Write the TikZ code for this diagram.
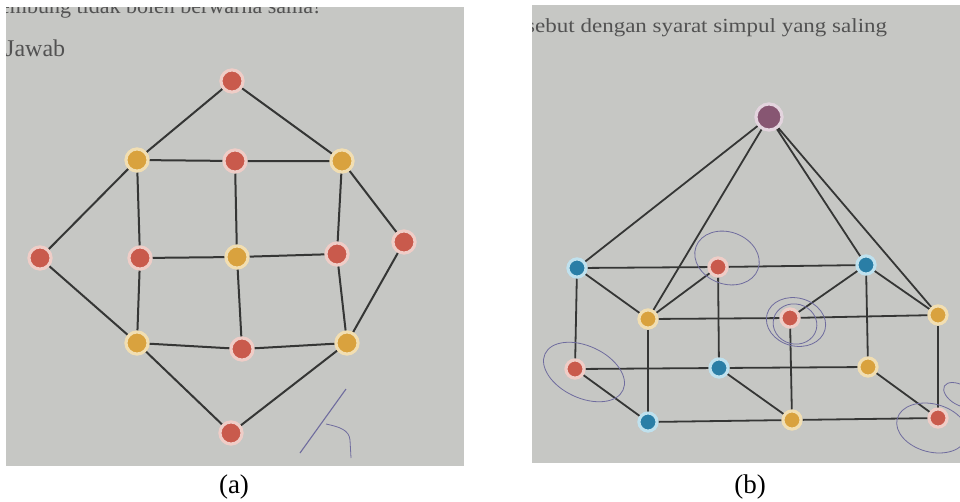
\documentclass[tikz,border=0pt]{standalone}
\usepackage{fontspec}
\setmainfont{Liberation Serif}
\definecolor{paper}{HTML}{C6C7C4}
\definecolor{edgec}{HTML}{353635}
\definecolor{inkc}{HTML}{6F6C9E}
\definecolor{redf}{HTML}{C95A4C}
\definecolor{redr}{HTML}{EFCDC7}
\definecolor{oraf}{HTML}{D9A23E}
\definecolor{orar}{HTML}{F1DEB2}
\definecolor{bluf}{HTML}{2A7EA6}
\definecolor{blur}{HTML}{BFE1EE}
\definecolor{purf}{HTML}{875672}
\definecolor{purr}{HTML}{E3D4DE}
\tikzset{
  vtx/.style={circle,line width=3pt,minimum size=22pt,inner sep=0pt},
  vred/.style={vtx,fill=redf,draw=redr},
  vora/.style={vtx,fill=oraf,draw=orar},
  vblu/.style={vtx,fill=bluf,draw=blur,minimum size=18pt},
  vpur/.style={vtx,fill=purf,draw=purr,minimum size=26pt},
  small/.style={minimum size=18pt},
  pen/.style={draw=inkc,line width=0.8pt},
  printed/.style={text=black!68,font=\fontsize{22}{22}\selectfont,inner sep=0pt}
}
\begin{document}
\begin{tikzpicture}[x=1pt,y=-1pt]
	\useasboundingbox (0,0) rectangle (960,501);
	\fill[white] (0,0) rectangle (960,501);
	% the two photos
	\fill[paper] (6,7) rectangle (464,466);
	\fill[paper] (532,5) rectangle (960,463);
	\begin{scope}
	\clip (6,7) rectangle (464,466);
	\node[printed,anchor=base west] (qa) at (0,13) {embung tidak boleh berwarna sama!};
	\node[printed,anchor=base west,font=\fontsize{24}{24}\selectfont] (jw) at (5,56) {Jawab};
	\end{scope}
	\begin{scope}
	\clip (532,5) rectangle (960,463);
	\node[printed,anchor=base west,font=\fontsize{20}{20}\selectfont,xscale=1.15] (qb) at (526,32) {sebut dengan syarat simpul yang saling};
	\end{scope}
	% graph (a)
	\node[vred] (t) at (232,81){};
	\node[vora] (tl) at (137,160){};
	\node[vred] (tm) at (235,161){};
	\node[vora] (tr) at (342,161){};
	\node[vred] (l) at (40,258){};
	\node[vred] (ml) at (140,258){};
	\node[vora] (mc) at (237,257){};
	\node[vred] (mr) at (337,254){};
	\node[vred] (r) at (404,242){};
	\node[vora] (bl) at (137,343){};
	\node[vred] (bm) at (242,349){};
	\node[vora] (br) at (347,343){};
	\node[vred] (b) at (231,433){};
	\begin{scope}[edgec,line width=2pt]
	\draw (tl)--(t)--(tr);
	\draw (tl)--(tm)--(tr);
	\draw (ml)--(mc)--(mr);
	\draw (bl)--(bm)--(br);
	\draw (tl)--(ml)--(bl);
	\draw (tm)--(mc)--(bm);
	\draw (tr)--(mr)--(br);
	\draw (tl)--(l)--(bl);
	\draw (tr)--(r)--(br);
	\draw (bl)--(b)--(br);
	\end{scope}
	% pen mark
	\draw[pen,line width=1.1pt] (300,453)--(346,389);
	\draw[pen] (326,424)..controls (340,427) and (349,430)..(350,440)--(351,458);
	% graph (b)
	\node[vpur] (apex) at (769,117){};
	\node[vblu] (blt) at (577,268){};
	\node[vred,small] (bmt) at (718,267){};
	\node[vblu] (brt) at (866,265){};
	\node[vora,small] (flt) at (648,319){};
	\node[vred,small] (fmt) at (790,318){};
	\node[vora,small] (frt) at (938,315){};
	\node[vred,small] (blb) at (575,369){};
	\node[vblu] (bmb) at (719,368){};
	\node[vora,small] (brb) at (868,367){};
	\node[vblu] (flb) at (648,422){};
	\node[vora,small] (fmb) at (792,420){};
	\node[vred,small] (frb) at (938,418){};
	\begin{scope}[edgec,line width=1.8pt]
	\draw (blt)--(apex)--(flt);
	\draw (brt)--(apex)--(frt);
	\draw (blt)--(bmt)--(brt);
	\draw (flt)--(fmt)--(frt);
	\draw (blb)--(bmb)--(brb);
	\draw (flb)--(fmb)--(frb);
	\draw (blt)--(flt);
	\draw (brt)--(frt);
	\draw (bmt)--(flt);
	\draw (brt)--(fmt);
	\draw (blb)--(flb);
	\draw (bmb)--(fmb);
	\draw (brb)--(frb);
	\draw (blt)--(blb);
	\draw (bmt)--(bmb);
	\draw (brt)--(brb);
	\draw (flt)--(flb);
	\draw (fmt)--(fmb);
	\draw (frt)--(frb);
	\end{scope}
	% redraw vertices over the lines
	\foreach \v/\s in {t/vred,tl/vora,tm/vred,tr/vora,l/vred,ml/vred,mc/vora,mr/vred,r/vred,bl/vora,bm/vred,br/vora,b/vred}
		\node[\s] at (\v){};
	\foreach \v/\s in {apex/vpur,blt/vblu,brt/vblu,bmb/vblu,flb/vblu}
		\node[\s] at (\v){};
	\foreach \v/\s in {bmt/vred,fmt/vred,blb/vred,frb/vred,flt/vora,frt/vora,brb/vora,fmb/vora}
		\node[\s,small] at (\v){};
	% pen circles
	\begin{scope}
	\clip (532,5) rectangle (960,463);
	\draw[pen,rotate around={-20:(727,258)}] (727,258) ellipse (33 and 26);
	\draw[pen,rotate around={-15:(796,322)}] (796,322) ellipse (30 and 24);
	\draw[pen,rotate around={-15:(795,324)}] (795,324) ellipse (22 and 20);
	\draw[pen,rotate around={-25:(584,372)}] (584,372) ellipse (43 and 26);
	\draw[pen,rotate around={-15:(932,428)}] (932,428) ellipse (36 and 24);
	\draw[pen,rotate around={-30:(960,395)}] (960,395) ellipse (18 and 10);
	\end{scope}
	% captions
	\node[font=\fontsize{27}{27}\selectfont] (capa) at (234,487){(a)};
	\node[font=\fontsize{27}{27}\selectfont] (capb) at (750,487){(b)};
\end{tikzpicture}
\end{document}
